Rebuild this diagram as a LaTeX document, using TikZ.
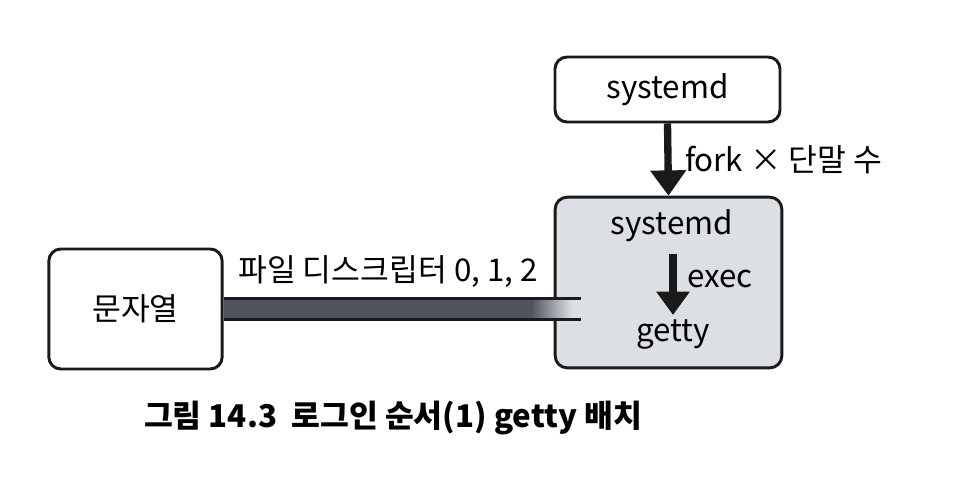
\documentclass[tikz,border=0pt]{standalone}
\usepackage{fontspec}
\setmainfont{Noto Sans CJK KR}
\usetikzlibrary{arrows.meta, positioning, calc}
\definecolor{boxg}{HTML}{DCDFE3}
\definecolor{pipeg}{HTML}{50545E}
\definecolor{ink}{HTML}{1A1A1A}
\tikzset{
    proc/.style={draw=ink, line width=2.2pt, rounded corners=9pt, font=\fontsize{23.5}{27}\selectfont},
    flow/.style={draw=ink, line width=5.5pt, -{Triangle[length=19pt,width=26pt]}},
    label/.style={font=\fontsize{23.5}{27}\selectfont, inner sep=2pt},
    pipe/.style={draw=ink, line width=2.2pt}
}

\begin{document}
\begin{tikzpicture}[x=0.75pt, y=-0.75pt]
			\useasboundingbox (0,0) rectangle (962,497);
			\node[proc, minimum width=168.75pt, minimum height=48.75pt] (parent) at (667.5,89.5) {systemd};
			\node[proc, fill=boxg, minimum width=170pt, minimum height=128pt] (child) at (668.5,282.5) {};
			\node[proc, minimum width=130pt, minimum height=90pt] (src) at (135.5,309) {문자열};
			\node[label] (sysd) at (672,226) {systemd};
			\node[label] (getty) at (673,335) {getty};
			\draw[flow] (parent.south) -- (child.north) node[label, midway, right=8pt] {fork × 단말 수};
			\coordinate (hop1) at (673,254);
			\coordinate (hop2) at (673,315);
			\draw[flow, -{Triangle[length=17.5pt,width=24pt]}] (hop1) -- (hop2) node[label, midway, right=6pt, yshift=4pt] {exec};
			\coordinate (pin) at ($(src.east -| child.west)+(27,0)$);
			\fill[pipeg] ($(src.east)+(0,-10.5)$) rectangle ($(src.east -| child.west)+(-22,10.5)$);
			\shade[left color=pipeg, right color=boxg] ($(src.east -| child.west)+(-22.5,-10.5)$) rectangle ($(src.east -| child.west)+(18,10.5)$);
			\draw[pipe] ($(src.east)+(0,-10.5)$) -- ($(pin)+(0,-10.5)$);
			\draw[pipe] ($(src.east)+(0,10.5)$) -- ($(pin)+(0,10.5)$);
			\node[label, anchor=south] (fdtext) at (388,290) {파일 디스크립터 0, 1, 2};
			\node[font=\fontsize{23.5}{27}\selectfont\bfseries] (cap) at (393,418) {그림 14.3\ \ 로그인 순서(1) getty 배치};
		\end{tikzpicture}
\end{document}
